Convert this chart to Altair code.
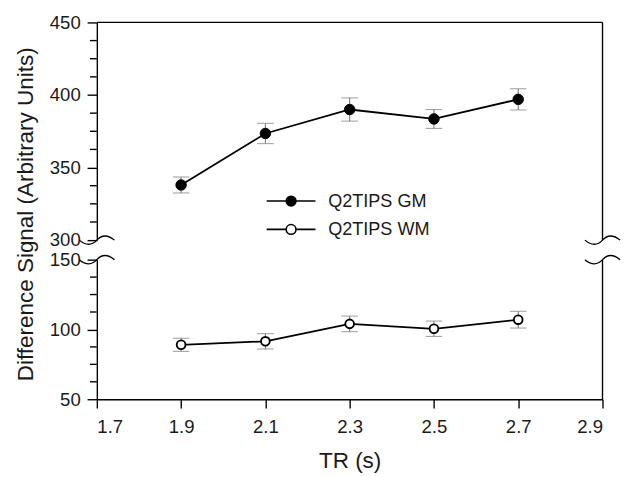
import altair as alt
import pandas as pd

# ---- data ----
tr = [1.9, 2.1, 2.3, 2.5, 2.7]
gm = [338.0, 373.5, 390.0, 383.5, 397.0]
gm_err = [5.5, 7.0, 8.0, 6.5, 7.3]
wm = [89.0, 91.5, 104.0, 100.5, 107.0]
wm_err = [4.7, 5.5, 5.6, 5.5, 6.0]
series = ["Q2TIPS GM", "Q2TIPS WM"]

x_ticks = [1.7, 1.9, 2.1, 2.3, 2.5, 2.7, 2.9]
top_major = [300, 350, 400, 450]
top_minor = [312.5, 325, 337.5, 362.5, 375, 387.5, 412.5, 425, 437.5]
bot_major = [50, 100, 150]
bot_minor = [62.5, 75, 87.5, 112.5, 125, 137.5]
top_domain = [300, 450]
bot_domain = [50, 150]
x_domain = [1.7, 2.9]

FONT = "Liberation Sans"
TXT = "#1a1a1a"
ERR = "#7a7a7a"
W = 518
LW = 1.4

gm_df = pd.DataFrame({"tr": tr, "v": gm, "lo": [a - b for a, b in zip(gm, gm_err)],
                      "hi": [a + b for a, b in zip(gm, gm_err)], "series": series[0]})
wm_df = pd.DataFrame({"tr": tr, "v": wm, "lo": [a - b for a, b in zip(wm, wm_err)],
                      "hi": [a + b for a, b in zip(wm, wm_err)], "series": series[1]})

xs = alt.Scale(domain=x_domain, nice=False, zero=False)
BREAK = "M-1,0C-0.6,0.33,-0.3,0.33,0,0C0.3,-0.33,0.6,-0.33,1,0"
# legend glyph: line through a circle, drawn in a 20px symbol box (path spans beyond it)
LEG = "M-2.5,0L-0.5,0M0.5,0L2.5,0M-0.5,0A0.5,0.5,0,1,0,0.5,0A0.5,0.5,0,1,0,-0.5,0Z"


def yaxis(vals, title=None):
    kw = dict(values=vals, grid=False, domainColor="black", tickColor="black",
              domainWidth=LW, tickWidth=LW, tickSize=10, format="d",
              labelFont=FONT, labelFontSize=19, labelColor=TXT, labelPadding=7)
    if title:
        kw.update(title=title, titleFont=FONT, titleFontSize=23, titleColor=TXT,
                  titleFontWeight="normal", titleAngle=-90, titleAlign="center",
                  titleBaseline="alphabetic", titleX=-66, titleY=-47)
    else:
        kw.update(title=None)
    return alt.Axis(**kw)


def panel(df, domain, major, minor, height, top, title=None, xaxis=None):
    ys = alt.Scale(domain=domain, nice=False, zero=False)
    base = alt.Chart(df)
    x_enc = alt.X("tr:Q", scale=xs, axis=xaxis)
    err = base.mark_rule(color=ERR, strokeWidth=1.1).encode(
        x=x_enc, y=alt.Y("lo:Q", scale=ys, axis=yaxis(major, title)), y2="hi:Q")
    cap_lo = base.mark_tick(color=ERR, orient="horizontal", size=17, thickness=1.1).encode(
        x=alt.X("tr:Q", scale=xs), y=alt.Y("lo:Q", scale=ys))
    cap_hi = base.mark_tick(color=ERR, orient="horizontal", size=17, thickness=1.1).encode(
        x=alt.X("tr:Q", scale=xs), y=alt.Y("hi:Q", scale=ys))
    line = base.mark_line(color="black", strokeWidth=1.8).encode(
        x=alt.X("tr:Q", scale=xs), y=alt.Y("v:Q", scale=ys))
    if top:
        pts = base.mark_point(filled=True, size=115, stroke="black", strokeWidth=1, opacity=1).encode(
            x=alt.X("tr:Q", scale=xs), y=alt.Y("v:Q", scale=ys),
            fill=alt.Fill("series:N", scale=alt.Scale(domain=series, range=["black", "white"]),
                          legend=alt.Legend(title=None, orient="none", legendX=188, legendY=172,
                                            symbolType=LEG, symbolSize=400,
                                            symbolStrokeColor="black", symbolStrokeWidth=1.6,
                                            labelFont=FONT, labelFontSize=18.5, labelColor=TXT,
                                            labelOffset=27, rowPadding=8, padding=0)))
    else:
        pts = base.mark_point(filled=True, size=80, fill="white", stroke="black",
                              strokeWidth=1.9, opacity=1).encode(
            x=alt.X("tr:Q", scale=xs), y=alt.Y("v:Q", scale=ys))
    minor_df = pd.DataFrame({"m": minor})
    minor_ticks = alt.Chart(minor_df).mark_rule(color="black", strokeWidth=LW).encode(
        x=alt.value(0), x2=alt.value(-7), y=alt.Y("m:Q", scale=ys))
    brk_y = domain[0] if top else domain[1]
    brk_df = pd.DataFrame({"bx": x_domain, "by": [brk_y, brk_y]})
    brk = alt.Chart(brk_df).mark_point(shape=BREAK, size=1300, filled=False,
                                       stroke="black", strokeWidth=1.3, opacity=1).encode(
        x=alt.X("bx:Q", scale=xs), y=alt.Y("by:Q", scale=ys))
    right = alt.Chart(brk_df.iloc[:1]).mark_rule(color="black", strokeWidth=LW).encode(
        x=alt.X("rx:Q", scale=xs), y=alt.Y("y1:Q", scale=ys), y2="y2:Q").transform_calculate(
        rx=str(x_domain[1]), y1=str(domain[0]), y2=str(domain[1]))
    layers = [err, cap_lo, cap_hi, line, pts, minor_ticks, right, brk]
    if top:
        topline = alt.Chart(brk_df.iloc[:1]).mark_rule(color="black", strokeWidth=LW).encode(
            x=alt.X("x1:Q", scale=xs), x2="x2:Q", y=alt.Y("ty:Q", scale=ys)).transform_calculate(
            x1=str(x_domain[0]), x2=str(x_domain[1]), ty=str(domain[1]))
        layers.append(topline)
    return alt.layer(*layers).properties(width=W, height=height)


xaxis = alt.Axis(values=x_ticks, format=".1f", grid=False, domainColor="black", tickColor="black",
                 domainWidth=LW, tickWidth=LW, tickSize=9, labelPadding=10,
                 labelFont=FONT, labelFontSize=19, labelColor=TXT,
                 title="TR (s)", titleFont=FONT, titleFontSize=23, titleColor=TXT,
                 titleFontWeight="normal", titlePadding=14)

top = panel(gm_df, top_domain, top_major, top_minor, 223, True)
bot = panel(wm_df, bot_domain, bot_major, bot_minor, 143, False,
            title="Difference Signal (Arbitrary Units)", xaxis=xaxis)

chart = alt.vconcat(top, bot, spacing=20, bounds="flush").properties(
    padding={"left": 6, "top": 0, "right": 0, "bottom": 5},
    background="white",
).configure_view(stroke=None)

chart.save("out.html", embed_options={"renderer": "svg", "actions": False})
